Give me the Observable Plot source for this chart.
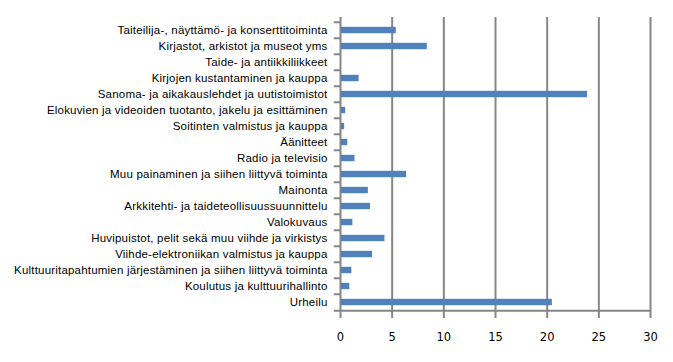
<!DOCTYPE html>
<html>
<head>
<meta charset="utf-8">
<script src="https://cdn.jsdelivr.net/npm/d3@7"></script>
<script src="https://cdn.jsdelivr.net/npm/@observablehq/plot@0.6"></script>
<style>
  html, body { margin: 0; padding: 0; background: #fff; }
</style>
</head>
<body>
<div id="chart"></div>
<script>
const categories = [
  "Taiteilija-, näyttämö- ja konserttitoiminta",
  "Kirjastot, arkistot ja museot yms",
  "Taide- ja antiikkiliikkeet",
  "Kirjojen kustantaminen ja kauppa",
  "Sanoma- ja aikakauslehdet ja uutistoimistot",
  "Elokuvien ja videoiden tuotanto, jakelu ja esittäminen",
  "Soitinten valmistus ja kauppa",
  "Äänitteet",
  "Radio ja televisio",
  "Muu painaminen ja siihen liittyvä toiminta",
  "Mainonta",
  "Arkkitehti- ja taideteollisuussuunnittelu",
  "Valokuvaus",
  "Huvipuistot, pelit sekä muu viihde ja virkistys",
  "Viihde-elektroniikan valmistus ja kauppa",
  "Kulttuuritapahtumien järjestäminen ja siihen liittyvä toiminta",
  "Koulutus ja kulttuurihallinto",
  "Urheilu"
];
const values = [5.4, 8.4, 0, 1.8, 23.9, 0.5, 0.4, 0.7, 1.4, 6.4, 2.7, 2.9, 1.2, 4.3, 3.1, 1.1, 0.9, 20.5];
const xTicks = [0, 5, 10, 15, 20, 25, 30];

const data = categories.map((c, i) => ({category: c, value: values[i]}));

const W = 673, H = 362;
const mTop = 17, mBottom = 48, mLeft = 340, mRight = 23;
const bw = (H - mTop - mBottom) / categories.length;
const gray = "#868686";
const tickLen = 0.6; // in x units, the small outside ticks

const chart = Plot.plot({
  width: W,
  height: H,
  marginTop: mTop,
  marginBottom: mBottom,
  marginLeft: mLeft,
  marginRight: mRight,
  style: {fontFamily: "Liberation Sans, Arial, sans-serif", fontSize: "11px", color: "#000", background: "#fff"},
  x: {domain: [0, 30], ticks: xTicks},
  y: {domain: categories, padding: 0},
  marks: [
    Plot.ruleX(xTicks, {stroke: gray, strokeWidth: 2, insetBottom: -4}),
    Plot.barX(data, {y: "category", x1: 0, x2: "value", fill: "#4F81BD", insetTop: 4.8, insetBottom: 4.8, insetLeft: 1}),
    Plot.ruleY(categories, {y: d => d, x1: -tickLen, x2: 0, dy: -bw / 2, stroke: gray, strokeWidth: 2}),
    Plot.ruleY([categories[categories.length - 1]], {y: d => d, x1: -tickLen, x2: 30, dy: bw / 2, stroke: gray, strokeWidth: 2}),
    Plot.axisY({tickSize: 0, tickPadding: 13, fontSize: 11.5, label: null}),
    Plot.axisX(xTicks, {tickSize: 0, tickPadding: 18, fontSize: 11.5, fontFamily: "DejaVu Sans, Verdana, sans-serif", label: null})
  ]
});
chart.querySelectorAll("g[aria-label='y-axis tick label'] text").forEach(t => t.setAttribute("letter-spacing", "0.2"));
document.getElementById("chart").appendChild(chart);
</script>
</body>
</html>
